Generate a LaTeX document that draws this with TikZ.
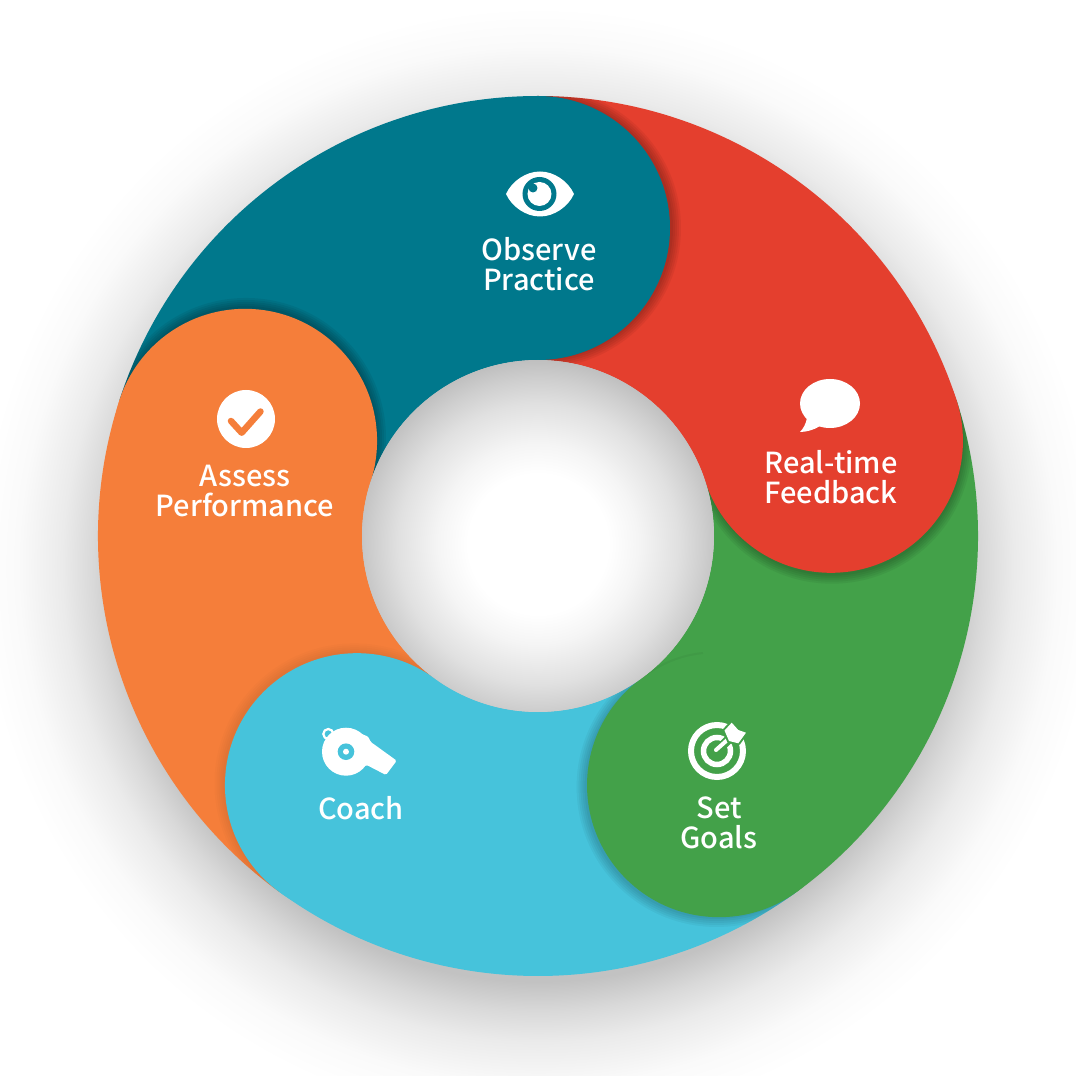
\documentclass[tikz,border=0pt]{standalone}
\usepackage{fontspec}
\usetikzlibrary{calc}
\setmainfont{Noto Sans CJK SC Medium}
\definecolor{observecol}{HTML}{00788C}
\definecolor{feedbackcol}{HTML}{E43F2E}
\definecolor{goalscol}{HTML}{43A149}
\definecolor{coachcol}{HTML}{46C3DB}
\definecolor{assesscol}{HTML}{F57E3A}
\pgfdeclareradialshading{halo}{\pgfpoint{0bp}{0bp}}{color(0bp)=(black!24); color(17.9bp)=(black!24); color(19.2bp)=(black!15); color(20.5bp)=(black!8); color(22.4bp)=(black!2); color(24.1bp)=(white); color(100bp)=(white)}
\pgfdeclareradialshading{holeshade}{\pgfpoint{0bp}{0bp}}{color(0bp)=(white); color(8.75bp)=(white); color(12.5bp)=(black!4); color(17.5bp)=(black!12); color(20.6bp)=(black!19); color(23.75bp)=(black!27); color(100bp)=(black!27)}
\newcommand{\wedgepath}[2]{(#1:440) arc[start angle=#1, end angle=#2, radius=440] -- (#2:176) arc[start angle=#2, end angle=#1, radius=176] -- cycle}
% shadow of one head on the wedge below it
\newcommand{\headshadow}[4]{%
  \begin{scope}
    \clip \wedgepath{#2}{#3};
    \foreach \s in {2,4,...,10} {
      \fill[black, opacity=#4] ($(#1:308)+(#1-90:3)$) circle[radius=130+\s];
    }
  \end{scope}}
\begin{document}
\begin{tikzpicture}[
    x=1pt, y=1pt,
    textlabel/.style={text=white, font=\fontsize{29}{30}\selectfont, align=center, inner sep=0pt},
    icon/.style={fill=white, draw=none}
  ]
  \useasboundingbox (-538,-540) rectangle (538,536);
  \fill[white] (-538,-540) rectangle (538,536);
  \begin{scope}
    \clip (-538,-540) rectangle (538,536);
    \shade[shading=halo] (0,-30) circle[radius=580];
  \end{scope}

  % segments, each one under the next
  \fill[observecol] \wedgepath{162}{90};
  \headshadow{162}{162}{90}{.06}
  \fill[assesscol] \wedgepath{-126}{-198};
  \fill[assesscol] (162:308) circle[radius=132];
  \headshadow{-126}{-126}{-198}{.015}
  \fill[coachcol] \wedgepath{-54}{-126};
  \fill[coachcol] (-126:308) circle[radius=132];
  \headshadow{-54}{-54}{-126}{.04}
  \fill[goalscol] \wedgepath{18}{-54};
  \fill[goalscol] (-54:308) circle[radius=132];
  \draw[black, opacity=.04, line width=2pt] (103,-142) .. controls (125,-126) and (145,-119) .. (165,-117);
  \headshadow{18}{18}{-54}{.05}
  \fill[feedbackcol] \wedgepath{90}{18};
  \fill[feedbackcol] (18:308) circle[radius=132];
  \headshadow{90}{90}{18}{.05}
  \fill[observecol] (90:308) circle[radius=132];

  \begin{scope}
    \clip (0,0) circle[radius=176];
    \shade[shading=holeshade] (0,-8) circle[radius=200];
  \end{scope}

  % eye
  \fill[icon] (-32,342) .. controls (-26,355) and (-12,364.5) .. (2,364.5) .. controls (16,364.5) and (30,355) .. (36,342) .. controls (30,329) and (16,319.5) .. (2,319.5) .. controls (-12,319.5) and (-26,329) .. (-32,342) -- cycle;
  \fill[observecol] (1.5,342) circle[radius=17];
  \fill[white] (1.5,342) circle[radius=12];
  \fill[observecol] (-5,348) circle[radius=4.5];

  % speech bubble
  \fill[icon] (292,132.5) ellipse[x radius=30, y radius=24.5];
  \fill[icon] (269,118) .. controls (268,112) and (265,107) .. (262,104) .. controls (268,104) and (276,106) .. (282,110) -- cycle;

  % check mark
  \fill[icon] (-292,117) circle[radius=29];
  \draw[assesscol, line width=6.5pt, line cap=round, line join=round] (-307,115) -- (-296.3,103.3) -- (-277.5,124.5);

  % whistle
  \fill[icon] (-192,-215.7) circle[radius=24];
  \fill[icon, rounded corners=1.5pt] (-191.3,-191.7) -- (-169.7,-200.7) -- (-167.3,-206) -- (-163,-209) -- (-141.3,-224.7) -- (-152,-239) -- (-171.3,-229) -- (-178,-232) -- cycle;
  \draw[white, line width=2.2pt] (-209.7,-198) circle[radius=5];
  \fill[coachcol] (-192,-215.7) circle[radius=8.3];
  \fill[white] (-192,-215.7) circle[radius=3];

  % target
  \draw[white, line width=6pt] (179,-215) circle[radius=26];
  \draw[white, line width=5.5pt] (179,-215) circle[radius=13.5];
  \draw[goalscol, line width=9pt] (179,-215) -- (196,-198);
  \draw[white, line width=4pt, line cap=round] (178,-214) -- (196,-198);
  \fill[icon, preaction={draw=goalscol, line width=4pt, line join=round}] (193.7,-186.7) -- (200.3,-194) -- (208,-196.7) -- (200.3,-207.3) -- (191,-205) -- (186.5,-194.5) -- cycle;

  \node[textlabel] (observe) at (1,272) {Observe\\Practice};
  \node[textlabel] (feedback) at (293,59) {Real-time\\Feedback};
  \node[textlabel] (goals) at (181,-287) {Set\\Goals};
  \node[textlabel] (coach) at (-177,-272) {Coach};
  \node[textlabel] (assess) at (-293,45) {Assess\\Performance};
\end{tikzpicture}
\end{document}
